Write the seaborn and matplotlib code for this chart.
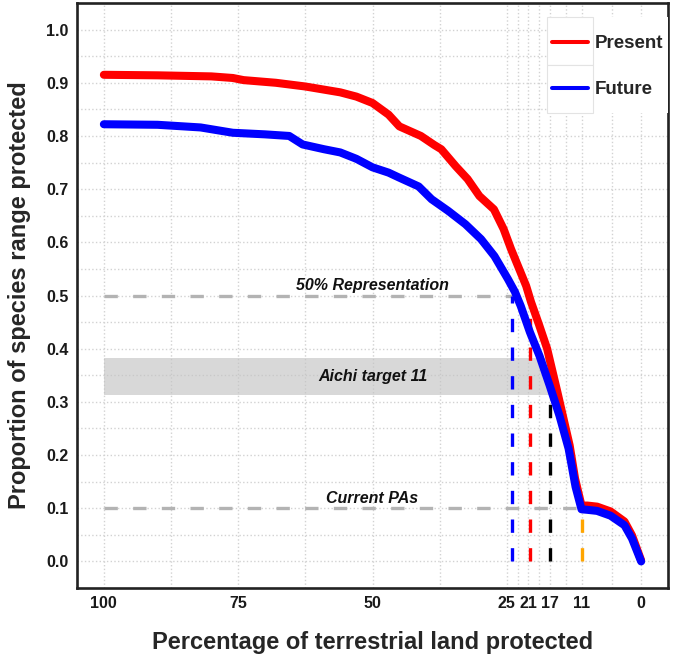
import numpy as np
import pandas as pd
import seaborn as sns
import matplotlib.pyplot as plt
from matplotlib.patches import Rectangle

# Curve values (x = % land protected, y = proportion of range)
present_x = [100, 90, 80, 76, 74, 68, 62.5, 56, 53, 50, 47, 45, 41, 38.5, 37.2, 34.5, 32.3,
             30.1, 27.4, 25.6, 24.2, 22.7, 21.4, 20.5, 19, 17.5, 15.6, 13.3, 12.3, 11.1, 10,
             8.2, 5.7, 3.1, 1.7, 0]
present_y = [0.915, 0.914, 0.912, 0.909, 0.905, 0.900, 0.893, 0.882, 0.874, 0.862, 0.840,
             0.818, 0.800, 0.783, 0.775, 0.743, 0.719, 0.687, 0.662, 0.625, 0.587, 0.550,
             0.518, 0.488, 0.445, 0.400, 0.319, 0.218, 0.156, 0.105, 0.105, 0.103, 0.094,
             0.075, 0.049, 0.002]
future_x = [100, 90, 82, 76, 70, 65.5, 63, 59, 56, 53, 50, 47, 45.1, 41.4, 39, 35.9, 32.7,
            29.8, 27.3, 24.8, 23.5, 22.4, 20.7, 18.9, 17, 15.2, 13.5, 12.2, 11.1, 10, 8.2,
            5.7, 3.1, 1.7, 0]
future_y = [0.822, 0.821, 0.816, 0.806, 0.803, 0.800, 0.784, 0.775, 0.769, 0.757, 0.741,
            0.731, 0.722, 0.705, 0.681, 0.659, 0.634, 0.606, 0.574, 0.531, 0.507, 0.480,
            0.431, 0.386, 0.330, 0.274, 0.212, 0.140, 0.098, 0.097, 0.095, 0.086, 0.068,
            0.043, 0.000]

# Targets
cut_x = [24.1, 20.6, 17, 11]
cut_top = [0.5, 0.46, 0.38, 0.1]
cut_colors = ["blue", "red", "black", "orange"]
ref_y = [0.5, 0.1]
ref_end = [20.9, 11]
ref_labels = ["50% Representation", "Current PAs"]
aichi_low, aichi_high, aichi_end = 0.313, 0.383, 17

x_breaks = [100, 75, 50, 25, 21, 17, 11, 0]
x_minor = [87.5, 62.5, 37.5, 23, 19, 14, 5.5]
y_breaks = np.round(np.arange(0, 1.01, 0.1), 1)
y_minor = np.round(np.arange(0.05, 1.0, 0.1), 2)

df = pd.concat([
    pd.DataFrame({"pct": present_x, "prop": present_y, "scenario": "Present"}),
    pd.DataFrame({"pct": future_x, "prop": future_y, "scenario": "Future"}),
])

sns.set_style("white")
plt.rcParams["font.family"] = ["Liberation Sans", "DejaVu Sans"]

fig = plt.figure(figsize=(6.75, 6.56), dpi=100)
ax = fig.add_axes([77 / 675, 1 - 588 / 656, 591 / 675, 585 / 656])

# grid
ax.set_xticks(x_breaks)
ax.set_xticks(x_minor, minor=True)
ax.set_yticks(y_breaks)
ax.set_yticks(y_minor, minor=True)
ax.grid(which="both", color="#d2d2d2", linestyle=":", linewidth=1.0)
ax.set_axisbelow(True)

# Aichi band
ax.fill_between([100, aichi_end], aichi_low, aichi_high, color="#c4c4c4", alpha=0.65,
                linewidth=0, zorder=1)

# horizontal reference lines
for y, xe in zip(ref_y, ref_end):
    ax.plot([100, xe], [y, y], color="#b3b3b3", linewidth=2.4, dashes=(4, 4.6), zorder=1.5)

# vertical cut lines
for x, top, c in zip(cut_x, cut_top, cut_colors):
    ax.plot([x, x], [0, top], color=c, linewidth=2.4, dashes=(4, 4.6), zorder=1.6)

sns.lineplot(data=df, x="pct", y="prop", hue="scenario", hue_order=["Present", "Future"],
             palette={"Present": "red", "Future": "blue"}, linewidth=5.8,
             estimator=None, ax=ax, zorder=3)

ax.text(50, 0.518, ref_labels[0], ha="center", va="center", fontsize=11.5,
        fontweight="bold", fontstyle="italic", color="#111111")
ax.text(50, 0.348, "Aichi target 11", ha="center", va="center", fontsize=11.5,
        fontweight="bold", fontstyle="italic", color="#111111")
ax.text(50, 0.118, ref_labels[1], ha="center", va="center", fontsize=11.5,
        fontweight="bold", fontstyle="italic", color="#111111")

ax.set_xlim(105, -5)
ax.set_ylim(-0.05, 1.05)
ax.set_xticklabels([str(v) for v in x_breaks])
ax.set_yticklabels([f"{v:.1f}" for v in y_breaks])
ax.tick_params(which="major", length=3, color="#555555", labelsize=11.5, pad=3,
               labelcolor="#1a1a1a")
ax.tick_params(which="minor", length=0)
for lab in ax.get_xticklabels() + ax.get_yticklabels():
    lab.set_fontweight("bold")

for s in ax.spines.values():
    s.set_color("#222222")
    s.set_linewidth(1.9)

ax.set_xlabel("Percentage of terrestrial land protected", fontsize=17, fontweight="bold",
              labelpad=14)
ax.set_ylabel("Proportion of species range protected", fontsize=17, fontweight="bold",
              labelpad=11)

# legend: white background + key boxes, like ggplot
ax.add_patch(Rectangle((547 / 675, 1 - 113 / 656), 121 / 675, 96 / 656,
                       transform=fig.transFigure, facecolor="white", edgecolor="none",
                       zorder=4))
for top in (17, 65):
    ax.add_patch(Rectangle((547 / 675, 1 - (top + 48) / 656), 46 / 675, 48 / 656,
                           transform=fig.transFigure, facecolor="white",
                           edgecolor="#e3e3e3", linewidth=0.8, zorder=4.5))
handles, labels = ax.get_legend_handles_labels()
ax.get_legend().remove()
leg = ax.legend(handles, labels, loc="upper left",
                bbox_to_anchor=(534 / 675, 1 - 17 / 656), bbox_transform=fig.transFigure,
                frameon=False, prop={"weight": "bold", "size": 13.5},
                handlelength=1.9, handletextpad=0.35, labelspacing=1.53,
                borderpad=0.97, borderaxespad=0)
leg.set_zorder(5)
for h in leg.get_lines():
    h.set_linewidth(2.9)

fig.savefig("out.png", dpi=100)
